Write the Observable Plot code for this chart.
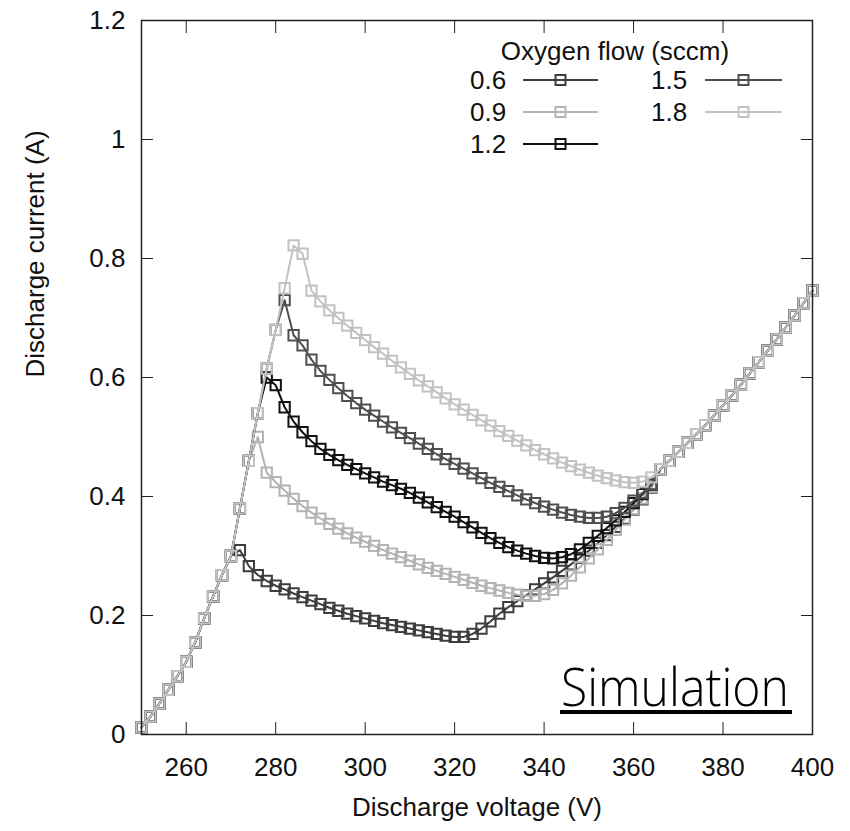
<!DOCTYPE html>
<html>
<head>
<meta charset="utf-8">
<script src="https://cdn.jsdelivr.net/npm/d3@7"></script>
<script src="https://cdn.jsdelivr.net/npm/@observablehq/plot@0.6"></script>
<style>
  html, body { margin: 0; padding: 0; background: #fff; }
</style>
</head>
<body>
<div id="chart"></div>
<script>
// ---------- data ----------
const flows = ["0.6", "0.9", "1.2", "1.5", "1.8"];
const legendTitle = "Oxygen flow (sccm)";
const xLabel = "Discharge voltage (V)";
const yLabel = "Discharge current (A)";
const annotation = "Simulation";

const xTicks = [260, 280, 300, 320, 340, 360, 380, 400];
const xTickLabels = ["260", "280", "300", "320", "340", "360", "380", "400"];
const yTicks = [0, 0.2, 0.4, 0.6, 0.8, 1, 1.2];
const yTickLabels = ["0", "0.2", "0.4", "0.6", "0.8", "1", "1.2"];

const voltage = [250, 252, 254, 256, 258, 260, 262, 264, 266, 268, 270, 272, 274, 276, 278, 280,
  282, 284, 286, 288, 290, 292, 294, 296, 298, 300, 302, 304, 306, 308, 310, 312, 314, 316, 318,
  320, 322, 324, 326, 328, 330, 332, 334, 336, 338, 340, 342, 344, 346, 348, 350, 352, 354, 356,
  358, 360, 362, 364, 366, 368, 370, 372, 374, 376, 378, 380, 382, 384, 386, 388, 390, 392, 394,
  396, 398, 400];

// shared rising branch, 250–282 V
const riseCurrent = [0.012, 0.030, 0.052, 0.075, 0.098, 0.122, 0.155, 0.195, 0.232, 0.268, 0.300,
  0.380, 0.460, 0.540, 0.615, 0.680, 0.750];
// shared high-voltage branch, 366–400 V
const commonCurrent = [0.446, 0.460, 0.475, 0.490, 0.505, 0.520, 0.536, 0.553, 0.570, 0.588,
  0.607, 0.626, 0.645, 0.664, 0.684, 0.704, 0.725, 0.746];
const commonStart = 366;

// each flow's own segment (from its peak to 364 V)
const segmentStart = [272, 276, 278, 282, 284];
const current06 = [0.310, 0.283, 0.268, 0.258, 0.250, 0.244, 0.237, 0.231, 0.225, 0.219, 0.213,
  0.208, 0.203, 0.199, 0.195, 0.191, 0.187, 0.184, 0.181, 0.178, 0.175, 0.172, 0.169, 0.166,
  0.164, 0.164, 0.169, 0.178, 0.190, 0.203, 0.214, 0.224, 0.234, 0.244, 0.254, 0.264, 0.275,
  0.286, 0.297, 0.309, 0.322, 0.335, 0.349, 0.363, 0.378, 0.395, 0.415];
const current09 = [0.500, 0.440, 0.424, 0.410, 0.396, 0.384, 0.373, 0.363, 0.354, 0.346, 0.338,
  0.331, 0.324, 0.317, 0.310, 0.304, 0.298, 0.292, 0.286, 0.280, 0.275, 0.270, 0.265, 0.260,
  0.255, 0.250, 0.246, 0.242, 0.238, 0.235, 0.233, 0.233, 0.236, 0.243, 0.254, 0.267, 0.281,
  0.296, 0.311, 0.327, 0.344, 0.361, 0.379, 0.397, 0.416];
const current12 = [0.600, 0.587, 0.550, 0.526, 0.508, 0.493, 0.480, 0.470, 0.461, 0.453, 0.446,
  0.439, 0.432, 0.425, 0.419, 0.413, 0.406, 0.398, 0.390, 0.382, 0.374, 0.366, 0.357, 0.348,
  0.339, 0.330, 0.322, 0.315, 0.309, 0.304, 0.300, 0.297, 0.296, 0.298, 0.303, 0.311, 0.322,
  0.334, 0.347, 0.360, 0.374, 0.389, 0.404, 0.420];
const current15 = [0.730, 0.671, 0.654, 0.630, 0.611, 0.596, 0.582, 0.569, 0.557, 0.546, 0.536,
  0.526, 0.516, 0.507, 0.498, 0.489, 0.480, 0.471, 0.463, 0.455, 0.447, 0.439, 0.431, 0.423,
  0.416, 0.409, 0.402, 0.395, 0.389, 0.383, 0.378, 0.373, 0.369, 0.366, 0.364, 0.364, 0.366,
  0.372, 0.381, 0.393, 0.406, 0.421];
const current18 = [0.822, 0.808, 0.746, 0.728, 0.713, 0.700, 0.687, 0.675, 0.663, 0.651, 0.640,
  0.628, 0.617, 0.606, 0.595, 0.585, 0.575, 0.565, 0.555, 0.546, 0.537, 0.528, 0.519, 0.510,
  0.502, 0.494, 0.486, 0.478, 0.471, 0.464, 0.457, 0.451, 0.445, 0.440, 0.435, 0.431, 0.427,
  0.424, 0.423, 0.425, 0.432];
const segments = [current06, current09, current12, current15, current18];

// ---------- styles ----------
const colors = ["#3d3d3d", "#b3b3b3", "#111111", "#4f4f4f", "#c2c2c2"];
const FONT = "'Liberation Sans', Arial, Helvetica, sans-serif";

// ---------- build table ----------
function seriesRows(k) {
  const start = segmentStart[k];
  const i0 = voltage.indexOf(start);
  const iC = voltage.indexOf(commonStart);
  return voltage.map((v, i) => {
    let c;
    if (i < i0) c = riseCurrent[i];
    else if (i < iC) c = segments[k][i - i0];
    else c = commonCurrent[i - iC];
    return {flow: flows[k], voltage: v, current: c};
  });
}
const table = flows.map((f, k) => seriesRows(k));

const seriesMarks = [];
table.forEach((rows, k) => {
  seriesMarks.push(Plot.line(rows, {x: "voltage", y: "current", stroke: colors[k], strokeWidth: 2}));
  seriesMarks.push(Plot.dot(rows, {x: "voltage", y: "current", symbol: "square", r: 5.8,
    stroke: colors[k], strokeWidth: 2, fill: "none"}));
});

const chart = Plot.plot({
  width: 850,
  height: 831,
  marginLeft: 141,
  marginRight: 38,
  marginTop: 20,
  marginBottom: 97,
  x: {domain: [250, 400]},
  y: {domain: [0, 1.2]},
  style: {fontFamily: FONT, fontSize: "26px", background: "white", color: "#111"},
  marks: [
    ...seriesMarks,
    Plot.frame({stroke: "#222", strokeWidth: 1.5}),
    Plot.axisX({ticks: xTicks, tickSize: 12, dy: -12, fill: "none", stroke: "#222", label: null}),
    Plot.axisX({anchor: "top", ticks: xTicks, tickSize: 12, dy: 12, fill: "none", stroke: "#222", label: null}),
    Plot.axisY({ticks: yTicks, tickSize: 12, dx: 12, fill: "none", stroke: "#222", label: null}),
    Plot.axisY({anchor: "right", ticks: yTicks, tickSize: 12, dx: -12, fill: "none", stroke: "#222", label: null}),
    Plot.axisX({ticks: xTicks, tickSize: 0, tickPadding: 23, label: null, fill: "#111",
      tickFormat: d => xTickLabels[xTicks.indexOf(d)]}),
    Plot.axisY({ticks: yTicks, tickSize: 0, tickPadding: 16, label: null, fill: "#111",
      tickFormat: d => yTickLabels[yTicks.indexOf(d)]}),
    Plot.text([xLabel], {frameAnchor: "bottom", dy: 81, fontSize: 26, fill: "#111"}),
    Plot.text([yLabel], {frameAnchor: "left", dx: -106, rotate: -90, fontSize: 26, fill: "#111"})
  ]
});
document.getElementById("chart").appendChild(chart);

// ---------- legend & annotation (layout) ----------
const svg = d3.select(chart);
const lg = svg.append("g").attr("font-family", FONT).attr("font-size", 26).attr("fill", "#111")
  .attr("text-anchor", "start");
lg.append("text").attr("x", 615).attr("y", 60).attr("text-anchor", "middle").text(legendTitle);
const colText = [470, 651], colLine = [[523, 598], [705, 782]], rowBase = [89, 121, 153];
flows.forEach((f, k) => {
  const col = k < 3 ? 0 : 1;
  const row = k < 3 ? k : k - 3;
  const yb = rowBase[row];
  const yl = yb - 9;
  lg.append("text").attr("x", colText[col]).attr("y", yb).attr("text-anchor", "start").text(f);
  lg.append("line").attr("x1", colLine[col][0]).attr("x2", colLine[col][1])
    .attr("y1", yl).attr("y2", yl).attr("stroke", colors[k]).attr("stroke-width", 2);
  const cx = (colLine[col][0] + colLine[col][1]) / 2;
  lg.append("rect").attr("x", cx - 5).attr("y", yl - 5).attr("width", 10).attr("height", 10)
    .attr("fill", "none").attr("stroke", colors[k]).attr("stroke-width", 2);
});

const an = svg.append("g").attr("text-anchor", "start");
an.append("text").attr("x", 561).attr("y", 706).attr("text-anchor", "start")
  .attr("font-family", "'Open Sans', 'Noto Sans', sans-serif").attr("font-weight", 300)
  .attr("font-size", 54).attr("textLength", 228).attr("lengthAdjust", "spacingAndGlyphs")
  .attr("fill", "#000").text(annotation);
an.append("line").attr("x1", 560).attr("x2", 792).attr("y1", 712).attr("y2", 712)
  .attr("stroke", "#000").attr("stroke-width", 4);
</script>
</body>
</html>
